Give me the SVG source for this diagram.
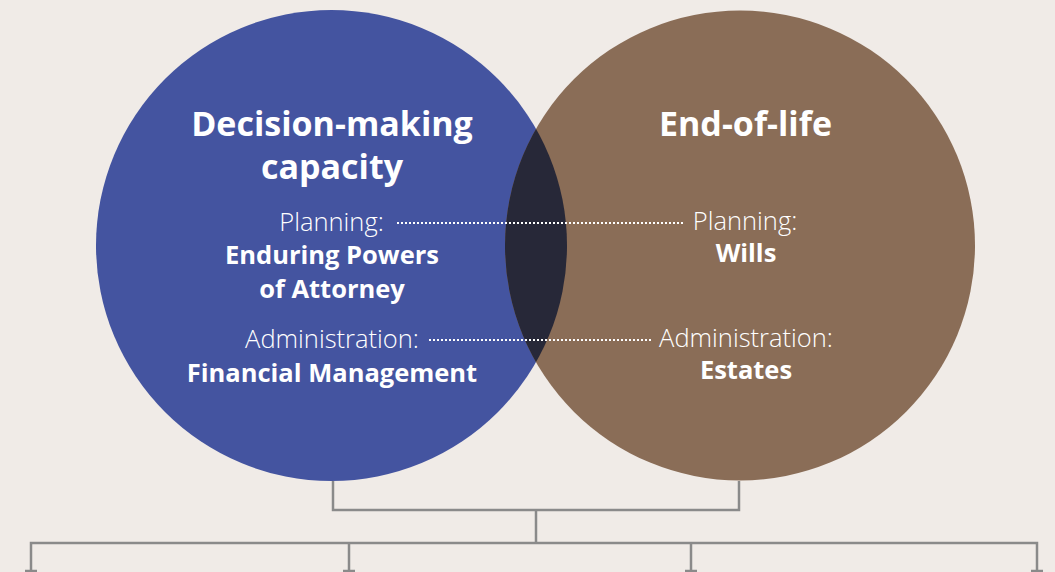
<svg xmlns="http://www.w3.org/2000/svg" width="1055" height="572" viewBox="0 0 1055 572">
<style>
.t{font-family:"Open Sans","Noto Sans","Liberation Sans",sans-serif;fill:#ffffff;text-anchor:middle}
.h{font-size:34px;font-weight:700}
.l{font-size:25.5px;font-weight:300}
.b{font-size:25.5px;font-weight:700}
.dot{stroke:#ffffff;stroke-width:2;stroke-dasharray:2 2;fill:none}
.c{stroke:#8a8a8a;stroke-width:2.5;fill:none}
</style>
<defs>
<clipPath id="lc"><circle cx="331.5" cy="245.5" r="235.5"/></clipPath>
</defs>
<rect x="0" y="0" width="1055" height="572" fill="#f0ebe7"/>
<g id="node-decision">
<circle cx="331.5" cy="245.5" r="235.5" fill="#4454a0"/>
</g>
<g id="node-endoflife">
<circle cx="740" cy="245.5" r="235" fill="#8a6d57"/>
</g>
<g id="overlap">
<circle cx="740" cy="245.5" r="235" fill="#272838" clip-path="url(#lc)"/>
</g>
<g id="connectors">
<line class="dot" x1="397" y1="223" x2="683" y2="223"/>
<line class="dot" x1="429" y1="340" x2="652" y2="340"/>
<polyline class="c" points="333,481 333,510 739,510 739,481"/>
<line class="c" x1="536" y1="510" x2="536" y2="543"/>
<polyline class="c" points="31,572 31,543 1037,543 1037,572"/>
<line class="c" x1="349" y1="543" x2="349" y2="572"/>
<line class="c" x1="691" y1="543" x2="691" y2="572"/>
<line class="c" x1="25" y1="571" x2="37" y2="571"/>
<line class="c" x1="343" y1="571" x2="355" y2="571"/>
<line class="c" x1="685" y1="571" x2="697" y2="571"/>
<line class="c" x1="1031" y1="571" x2="1043" y2="571"/>
</g>
<g id="text-left">
<text class="t h" x="332" y="136">Decision-making</text>
<text class="t h" x="332" y="179">capacity</text>
<text class="t l" x="331.5" y="231">Planning:</text>
<text class="t b" x="332" y="264">Enduring Powers</text>
<text class="t b" x="332" y="298">of Attorney</text>
<text class="t l" x="332" y="348">Administration:</text>
<text class="t b" x="332" y="382">Financial Management</text>
</g>
<g id="text-right">
<text class="t h" x="745.5" y="136">End-of-life</text>
<text class="t l" x="745" y="230">Planning:</text>
<text class="t b" x="746" y="262">Wills</text>
<text class="t l" x="746" y="347">Administration:</text>
<text class="t b" x="746" y="379">Estates</text>
</g>
</svg>
